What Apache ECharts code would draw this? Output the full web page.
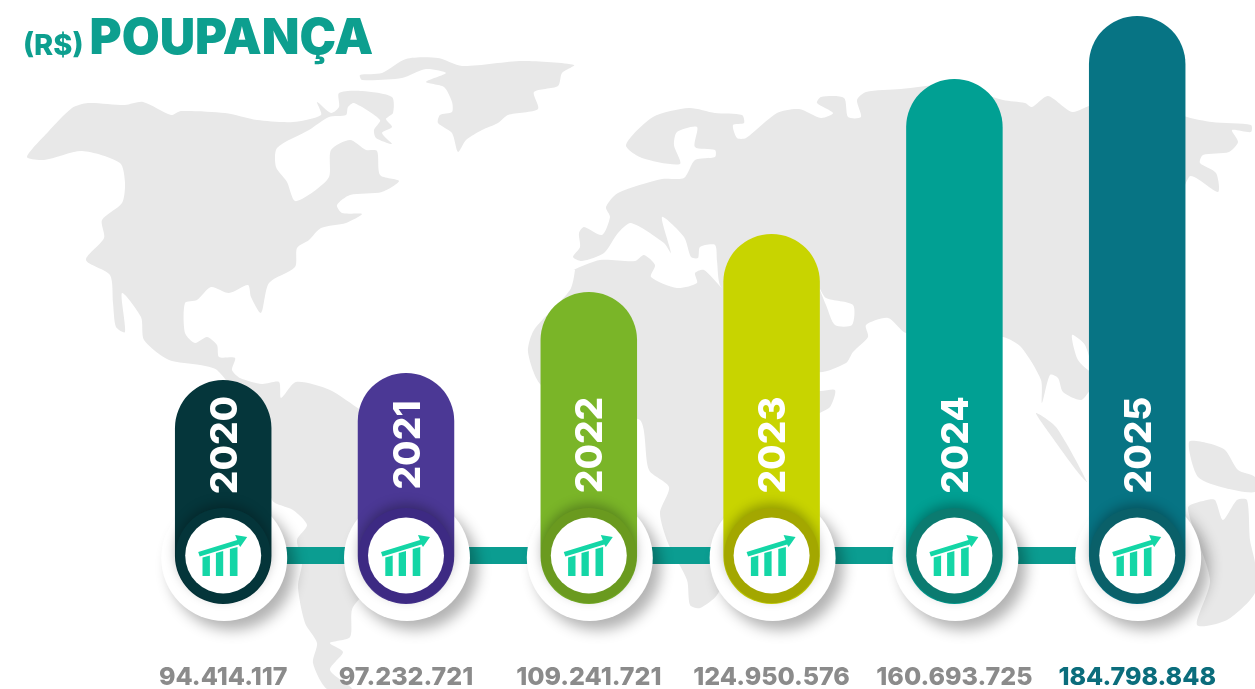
<!DOCTYPE html>
<html><head><meta charset="utf-8">
<style>html,body{margin:0;padding:0;background:#fff}#c{width:1255px;height:689px}</style>
<script src="https://cdn.jsdelivr.net/npm/echarts@6/dist/echarts.min.js"></script>
</head><body><div id="c"></div>
<script>
// --- data ---
const years = ['2020','2021','2022','2023','2024','2025'];
const savings = [94414117, 97232721, 109241721, 124950576, 160693725, 184798848];
// bar heights as drawn in the picture (they are not proportional to the printed values)
const drawnHeights = [224, 231, 312, 370, 525, 588];
const barColors = ['#05363b','#4b3895','#7ab528','#c8d400','#01a093','#077484'];
const ringColors = ['#04353a','#3d2a83','#6a9a1f','#a3a700','#0b7b70','#0a6069'];

// --- decorative world map backdrop (grey silhouette, not data) ---
const northAmerica = [[27,157],[48,132],[72,108],[88,103],[125,105],[143,102],[171,115],[181,111],[225,113],[257,120],[293,122],[321,115],[317,102],[331,113],[339,107],[339,93],[362,91],[392,97],[393,113],[386,119],[392,127],[382,133],[392,144],[376,138],[374,130],[380,120],[354,103],[348,107],[346,115],[329,117],[309,130],[277,148],[276,167],[287,182],[295,201],[313,192],[329,177],[331,150],[350,140],[366,150],[377,151],[380,175],[399,181],[382,192],[350,195],[337,205],[342,213],[362,214],[346,223],[321,228],[309,240],[297,248],[295,267],[269,283],[261,313],[251,297],[248,285],[229,293],[211,287],[197,300],[185,303],[185,333],[195,343],[207,337],[217,345],[219,357],[235,358],[232,370],[240,378],[262,384],[279,382],[281,398],[296,382],[330,390],[361,410],[400,430],[440,460],[430,510],[400,560],[353,607],[350,637],[330,643],[343,652],[330,670],[352,689],[327,689],[313,663],[317,643],[305,623],[298,587],[302,563],[297,540],[307,525],[293,510],[272,500],[262,440],[240,400],[217,370],[200,365],[169,360],[144,340],[141,317],[122,293],[125,332],[116,327],[113,303],[110,275],[86,260],[104,238],[102,220],[122,203],[125,183],[120,163],[82,151],[44,160]];
const greenland = [[360,75],[382,73],[406,59],[438,58],[462,66],[522,61],[574,65],[562,73],[558,86],[534,92],[538,109],[508,115],[498,123],[482,130],[466,140],[458,152],[452,133],[438,123],[440,115],[452,112],[452,102],[444,87],[426,82],[446,73],[426,69],[402,78],[362,80]];
const eurasia = [[626,145],[653,117],[689,108],[715,113],[742,115],[744,123],[733,125],[737,138],[746,138],[777,113],[799,109],[821,118],[833,113],[817,103],[821,97],[844,98],[848,117],[861,117],[857,100],[866,92],[901,89],[950,85],[1003,100],[1025,103],[1032,107],[1048,96],[1072,112],[1092,105],[1140,100],[1187,117],[1212,122],[1251,125],[1251,132],[1232,130],[1238,142],[1229,152],[1203,155],[1200,163],[1216,173],[1218,192],[1189,177],[1150,300],[1090,390],[1081,400],[1063,392],[1058,378],[1050,375],[1042,403],[1041,380],[1021,347],[1003,337],[950,335],[906,333],[888,318],[866,325],[868,337],[853,352],[846,363],[817,372],[770,340],[721,287],[717,261],[715,245],[700,247],[698,258],[691,257],[684,237],[662,217],[671,253],[664,243],[631,223],[618,233],[604,253],[582,261],[573,257],[580,247],[579,233],[584,227],[602,235],[610,217],[606,207],[618,193],[662,179],[684,178],[695,160],[715,157],[715,150],[695,147],[697,127],[677,132],[674,145],[680,164],[642,158]];
const africa = [[573,270],[600,260],[635,261],[644,255],[655,265],[651,277],[677,288],[697,283],[695,273],[704,270],[721,287],[780,340],[817,390],[835,390],[830,407],[817,415],[790,450],[760,520],[717,595],[700,608],[690,605],[687,580],[668,543],[660,513],[669,487],[649,470],[640,420],[600,420],[541,385],[528,352],[534,330],[570,290],[575,270]];
const sundaIslands = [[1036,413],[1056,427],[1087,482],[1076,470],[1052,437]];
const newGuinea = [[1189,442],[1207,443],[1225,450],[1238,470],[1255,477],[1255,492],[1225,488],[1198,477]];
const australia = [[1188,508],[1207,500],[1215,500],[1223,520],[1237,500],[1247,500],[1250,540],[1255,563],[1255,593],[1227,620],[1197,625],[1210,580]];
const gulfInlet = [[819,287],[826,298],[853,305],[852,325],[835,325],[826,305]];
const japanSea = [[1072,335],[1085,345],[1092,372],[1078,360]];

const landShapes = [northAmerica, greenland, eurasia, africa, sundaIslands, newGuinea, australia];
const seaShapes = [gulfInlet, japanSea];
const mapGraphic = [
  ...landShapes.map(points => ({type:'polygon', silent:true, shape:{points, smooth:0.25}, style:{fill:'#e8e8e8'}})),
  ...seaShapes.map(points => ({type:'polygon', silent:true, shape:{points, smooth:0.25}, style:{fill:'#ffffff'}}))
];

const fmt = v => String(v).replace(/\B(?=(\d{3})+$)/g,'.');
const CIRCLE_H = 48.5;   // height of the ring centre above the axis baseline
const YEAR_H = 159;      // height of the year text centre above baseline
const ICON = '#14d6a6';

const chart = echarts.init(document.getElementById('c'), null, {renderer:'canvas'});
chart.setOption({
  animation:false,
  backgroundColor:'#fff',
  graphic:{elements:mapGraphic},
  title:{
    left:23, top:15, padding:0,
    text:'{a|(R$)} {b|POUPANÇA}',
    textStyle:{rich:{
      a:{fontFamily:'Inter',fontWeight:800,fontSize:29,color:'#0d9f8f',verticalAlign:'bottom',padding:[0,1,3,0]},
      b:{fontFamily:'Inter',fontWeight:900,fontSize:49,color:'#0d9f8f'}
    }}
  },
  grid:{left:131.8,right:26.4,top:0,bottom:85,outerBoundsMode:'none'},
  xAxis:{
    type:'category', data:years,
    axisLine:{show:false}, axisTick:{show:false}, splitLine:{show:false},
    axisLabel:{
      interval:0, margin:61, fontFamily:'Inter', fontWeight:800, fontSize:25,
      formatter:(v,i)=>fmt(savings[i]),
      color:(v,i)=> i===years.length-1 ? '#0b6d7c' : '#8b8b8b'
    }
  },
  yAxis:{type:'value',min:0,max:604,show:false,splitLine:{show:false}},
  series:[
    { // connectors between the discs
      type:'custom', z:1, silent:true, data:years.slice(0,-1).map((y,i)=>[i,CIRCLE_H]),
      encode:{x:0,y:1},
      renderItem:(p,api)=>{
        const a=api.coord([api.value(0),CIRCLE_H]), b=api.coord([api.value(0)+1,CIRCLE_H]);
        return {type:'rect',shape:{x:a[0],y:a[1]-8.5,width:b[0]-a[0],height:17},style:{fill:'#0b9d91'}};
      }
    },
    { // white discs with soft drop shadow
      type:'custom', z:2, silent:true, data:years.map((y,i)=>[i,CIRCLE_H]),
      encode:{x:0,y:1},
      renderItem:(p,api)=>{
        const c=api.coord([api.value(0),CIRCLE_H]);
        return {type:'circle',shape:{cx:c[0]+1,cy:c[1]+2.5,r:63},
          style:{fill:'#fff',shadowColor:'rgba(0,0,0,0.3)',shadowBlur:14,shadowOffsetX:8,shadowOffsetY:9}};
      }
    },
    { // the bars
      type:'bar', z:3, barWidth:96.5, silent:true,
      data:drawnHeights.map((v,i)=>({value:v,itemStyle:{color:barColors[i],borderRadius:48}}))
    },
    { // rings, icons and rotated years
      type:'custom', z:4, silent:true, data:years.map((y,i)=>[i,CIRCLE_H]),
      encode:{x:0,y:1},
      renderItem:(p,api)=>{
        const i=api.value(0), c=api.coord([i,CIRCLE_H]), t=api.coord([i,YEAR_H]);
        const X=c[0], Y=c[1];
        const poly=pts=>({type:'polygon',shape:{points:pts.map(q=>[X+q[0],Y+q[1]])},style:{fill:ICON}});
        return {type:'group',children:[
          {type:'circle',shape:{cx:X,cy:Y,r:47.5},
            style:{fill:ringColors[i],shadowColor:'rgba(0,0,0,0.28)',shadowBlur:12,shadowOffsetY:-4}},
          {type:'circle',shape:{cx:X,cy:Y,r:38},style:{fill:'#fff'}},
          poly([[-20.7,2],[-13.3,0],[-13.3,20.5],[-20.7,20.5]]),
          poly([[-7.3,-2.5],[0,-4.5],[0,20.5],[-7.3,20.5]]),
          poly([[6.7,-6.5],[14.3,-8.5],[14.3,20.5],[6.7,20.5]]),
          poly([[-25,-3.5],[14,-15.5],[12,-20.5],[24,-18.5],[17,-8.5],[15.5,-11],[-23.5,1]]),
          {type:'text',x:t[0]+2.5,y:t[1],rotation:Math.PI/2,
            style:{text:years[i],fill:'#fff',font:'800 37px "Inter"',align:'center',verticalAlign:'middle'}}
        ]};
      }
    }
  ]
});
</script></body></html>
